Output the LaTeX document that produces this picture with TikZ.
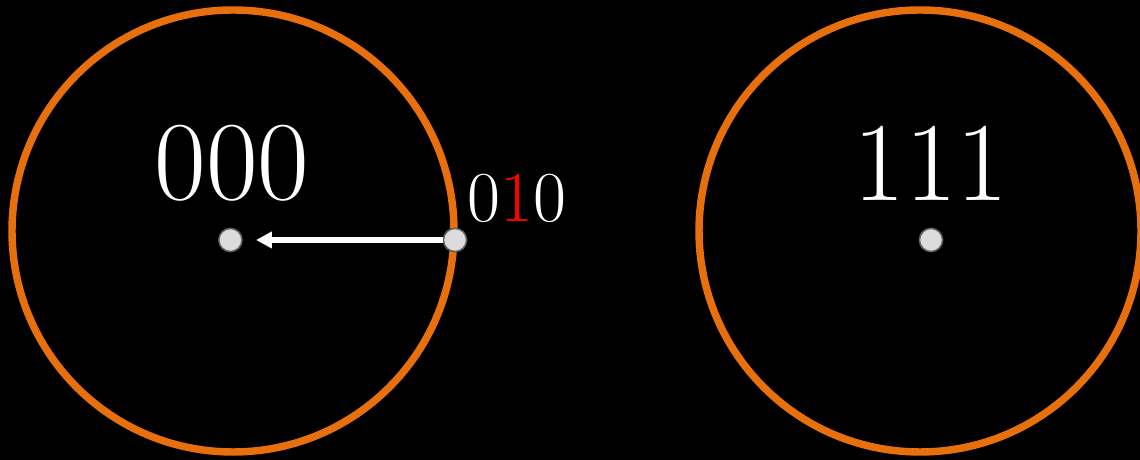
\documentclass[tikz,border=0pt]{standalone}
\usepackage{fontspec}
\usetikzlibrary{arrows.meta}
\definecolor{ringorange}{RGB}{232,112,12}
\definecolor{dotgray}{RGB}{220,220,220}
\definecolor{dotedge}{RGB}{95,95,95}

\begin{document}
\begin{tikzpicture}[x=1cm,y=1cm]
\tikzset{
  ring/.style={draw=ringorange,line width=5.3pt},
  dot/.style={circle,draw=dotedge,line width=1.1pt,fill=dotgray,minimum size=5.8mm,inner sep=0pt},
  bigcode/.style={text=white,inner sep=0pt,font=\fontsize{80}{96}\selectfont},
  smallcode/.style={text=white,inner sep=0pt,font=\fontsize{51}{61}\selectfont},
  pull/.style={-{Triangle[length=4mm,width=4mm]},draw=white,line width=3.6pt,shorten >=3.3mm}
}
\fill[black] (0,0) rectangle (28.5,11.5);
\useasboundingbox (0,0) rectangle (28.5,11.5);
\begin{scope}
\clip (0,0) rectangle (28.5,11.5);
\draw[ring] (5.825,5.725) circle (5.525);
\draw[ring] (23.0,5.725) circle (5.525);
\end{scope}
\node[bigcode] (n_c000) at (5.80,7.425) {000};
\node[bigcode] (n_c111) at (23.275,7.425) {111};
\node[smallcode] (n_c010) at (12.925,6.55) {0\textcolor{red}{1}0};
\node[dot] (n_p000) at (5.76,5.5) {};
\node[dot] (n_p010) at (11.375,5.5) {};
\node[dot] (n_p111) at (23.275,5.5) {};
\draw[pull] (n_p010) -- (n_p000);
\end{tikzpicture}
\end{document}
